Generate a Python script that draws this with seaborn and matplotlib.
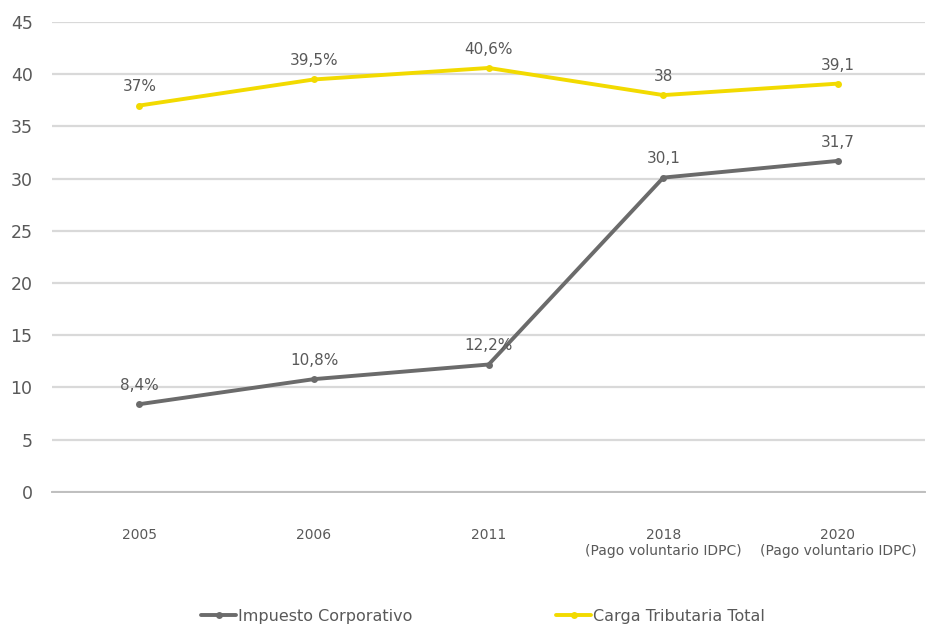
import matplotlib
matplotlib.use("Agg")
import matplotlib.pyplot as plt
import pandas as pd
import seaborn as sns

years = ["2005", "2006", "2011", "2018\n(Pago voluntario IDPC)", "2020\n(Pago voluntario IDPC)"]
impuesto = [8.4, 10.8, 12.2, 30.1, 31.7]
carga = [37, 39.5, 40.6, 38, 39.1]
impuesto_labels = ["8,4%", "10,8%", "12,2%", "30,1", "31,7"]
carga_labels = ["37%", "39,5%", "40,6%", "38", "39,1"]

gray = "#6b6b6b"
yellow = "#f2da00"
text_c = "#595959"

df = pd.DataFrame({
    "pos": list(range(len(years))) * 2,
    "valor": impuesto + carga,
    "serie": ["Impuesto Corporativo"] * len(years) + ["Carga Tributaria Total"] * len(years),
})

sns.set_style("white")
plt.rcParams["font.family"] = ["DejaVu Sans"]

fig = plt.figure(figsize=(9.34, 6.38), dpi=100)
ax = fig.add_axes([0.0557, 0.229, 0.935, 0.7365])

sns.lineplot(data=df, x="pos", y="valor", hue="serie",
             palette={"Impuesto Corporativo": gray, "Carga Tributaria Total": yellow},
             marker="o", markersize=5, markeredgewidth=0, linewidth=2.8, ax=ax)

# data labels
for i in range(len(years)):
    ax.annotate(impuesto_labels[i], (i, impuesto[i]), xytext=(0, 8), textcoords="offset points",
                ha="center", va="bottom", fontsize=11, color=text_c)
    ax.annotate(carga_labels[i], (i, carga[i]), xytext=(0, 8), textcoords="offset points",
                ha="center", va="bottom", fontsize=11, color=text_c)

ax.set_xlim(-0.5, 4.5)
ax.set_ylim(0, 45)
ax.set_yticks(range(0, 46, 5))
ax.set_xticks(range(len(years)))
ax.set_xticklabels(years, fontsize=10, color=text_c, linespacing=1.2)
ax.set_xticks([x - 0.5 for x in range(len(years) + 1)], minor=True)
ax.tick_params(axis="x", which="major", length=0, pad=26)
ax.tick_params(axis="x", which="minor", length=5, color="#bfbfbf", width=1.2, direction="out")
ax.tick_params(axis="y", length=0, labelsize=12.5, labelcolor=text_c, pad=14)
ax.set_xlabel("")
ax.set_ylabel("")

ax.grid(axis="y", color="#d9d9d9", linewidth=1.6)
ax.set_axisbelow(True)
for s in ["top", "right", "left"]:
    ax.spines[s].set_visible(False)
ax.spines["bottom"].set_color("#bfbfbf")
ax.spines["bottom"].set_linewidth(1.4)

leg = ax.legend(loc="lower center", bbox_to_anchor=(0.517, 0.0), bbox_transform=fig.transFigure,
                ncol=2, frameon=False, fontsize=11.5, columnspacing=9, handlelength=2.2,
                handletextpad=0.1)
for t in leg.get_texts():
    t.set_color(text_c)

fig.savefig("out.png", dpi=100)
